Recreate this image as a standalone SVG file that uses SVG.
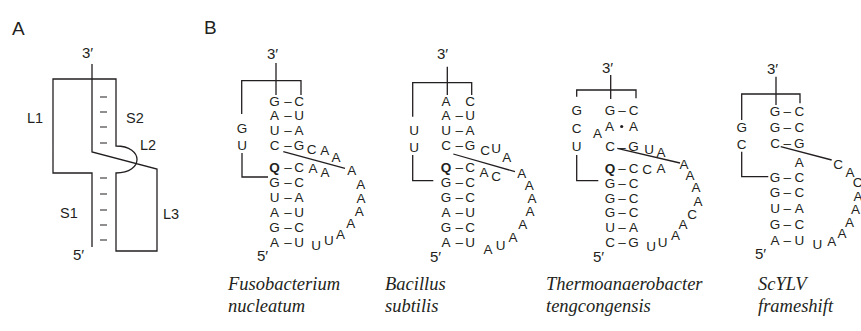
<svg xmlns="http://www.w3.org/2000/svg" width="861" height="331" viewBox="0 0 861 331">
<style>
text{font-family:"Liberation Sans",Arial,sans-serif;fill:#231f20}
.nt{font-size:13.5px;text-anchor:middle}
.q{font-weight:bold}
.lab{font-size:14.5px}
.end{font-size:15px}
.pl{font-size:19px}
.sp{font-family:"Liberation Serif","Times New Roman",serif;font-style:italic;font-size:18.5px}
.ln{fill:none;stroke:#231f20;stroke-width:1.3}
.tick{stroke:#231f20;stroke-width:1.2}
</style>
<rect width="861" height="331" fill="#fff"/>

<g id="panelA">
<text class="pl" x="12" y="35">A</text>
<text class="end" x="82" y="58">3′</text>
<text class="end" x="73" y="260">5′</text>
<text class="lab" x="27" y="123">L1</text>
<text class="lab" x="126" y="123">S2</text>
<text class="lab" x="140" y="150">L2</text>
<text class="lab" x="60" y="218">S1</text>
<text class="lab" x="163" y="219">L3</text>
</g>
<g id="connectors">
<path class="ln" d="M92,247 V173 H53 V79 H116 V146 C144,146 144,173 116,173 V251 H157 V169 L92,152 V64"/>
<path class="tick" d="M100,97 H107 M100,112 H107 M100,127 H107 M100,143 H107 M100,178 H107 M100,194 H107 M100,210 H107 M100,225 H107 M100,240 H107"/>
<path class="ln" d="M241.7,114 V80.7 H301 V95 M276,63 V95 M242,153 V177 H268 M283.3,151.7 L345,168.3"/>
<path class="ln" d="M412.7,116.7 V82.7 H471.7 V95 M447.3,66.7 V95 M412.7,155 V180.7 H433.3 M453.3,154 L515,171.7"/>
<path class="ln" d="M576.7,96.7 V90 H636 V98.3 M610.7,75 V99 M576.7,155 V180.7 H598.3 M617.3,148.3 L680,163"/>
<path class="ln" d="M741.7,120 V94 H800 V103.3 M776,76.7 V105 M741.7,151.7 V176.7 H768.3 M780.7,146.7 L831.7,160"/>
</g>

<text class="pl" x="204" y="34">B</text>

<g id="fusobacterium">
<text class="end" x="267" y="59">3′</text>
<text class="end" x="257" y="261">5′</text>
<text class="nt" x="242" y="133">G</text>
<text class="nt" x="242" y="150">U</text>
<text class="nt" x="274.5" y="105.5">G</text><text class="nt" x="288" y="105.5">–</text><text class="nt" x="299" y="105.5">C</text>
<text class="nt" x="274.5" y="120">A</text><text class="nt" x="288" y="120">–</text><text class="nt" x="299" y="120">U</text>
<text class="nt" x="274.5" y="134.5">U</text><text class="nt" x="288" y="134.5">–</text><text class="nt" x="299" y="134.5">A</text>
<text class="nt" x="274.5" y="149.5">C</text><text class="nt" x="288" y="149.5">–</text><text class="nt" x="299" y="149.5">G</text>
<text class="nt q" x="274.5" y="172">Q</text><text class="nt" x="288" y="172">–</text><text class="nt" x="299" y="172">C</text>
<text class="nt" x="274.5" y="187">G</text><text class="nt" x="288" y="187">–</text><text class="nt" x="299" y="187">C</text>
<text class="nt" x="274.5" y="202">U</text><text class="nt" x="288" y="202">–</text><text class="nt" x="299" y="202">A</text>
<text class="nt" x="274.5" y="217">A</text><text class="nt" x="288" y="217">–</text><text class="nt" x="299" y="217">U</text>
<text class="nt" x="274.5" y="232">G</text><text class="nt" x="288" y="232">–</text><text class="nt" x="299" y="232">C</text>
<text class="nt" x="274.5" y="247">A</text><text class="nt" x="288" y="247">–</text><text class="nt" x="299" y="247">U</text>
<text class="nt" x="311.7" y="154.3">C</text>
<text class="nt" x="324.7" y="155">A</text>
<text class="nt" x="336" y="161.7">A</text>
<text class="nt" x="313" y="173">A</text>
<text class="nt" x="325" y="177.3">A</text>
<text class="nt" x="351.7" y="175">A</text>
<text class="nt" x="360.7" y="189">A</text>
<text class="nt" x="361" y="202.5">A</text>
<text class="nt" x="359.3" y="216">A</text>
<text class="nt" x="350.7" y="228">A</text>
<text class="nt" x="340.5" y="239.3">A</text>
<text class="nt" x="328.8" y="245">U</text>
<text class="nt" x="316" y="249.5">U</text>
<text class="sp" x="228" y="290">Fusobacterium</text>
<text class="sp" x="228" y="312">nucleatum</text>
</g>

<g id="bacillus">
<text class="end" x="437" y="58.5">3′</text>
<text class="end" x="430" y="261.5">5′</text>
<text class="nt" x="414" y="135">U</text>
<text class="nt" x="414" y="151.5">U</text>
<text class="nt" x="446" y="105.5">A</text><text class="nt" x="470" y="105.5">C</text>
<text class="nt" x="446" y="120">A</text><text class="nt" x="459.3" y="120">–</text><text class="nt" x="470" y="120">U</text>
<text class="nt" x="446" y="134.5">U</text><text class="nt" x="459.3" y="134.5">–</text><text class="nt" x="470" y="134.5">A</text>
<text class="nt" x="446" y="149.5">C</text><text class="nt" x="459.3" y="149.5">–</text><text class="nt" x="470" y="149.5">G</text>
<text class="nt q" x="446" y="172">Q</text><text class="nt" x="459.3" y="172">–</text><text class="nt" x="470" y="172">C</text>
<text class="nt" x="446" y="187">G</text><text class="nt" x="459.3" y="187">–</text><text class="nt" x="470" y="187">C</text>
<text class="nt" x="446" y="202">G</text><text class="nt" x="459.3" y="202">–</text><text class="nt" x="470" y="202">C</text>
<text class="nt" x="446" y="217">A</text><text class="nt" x="459.3" y="217">–</text><text class="nt" x="470" y="217">U</text>
<text class="nt" x="446" y="232">G</text><text class="nt" x="459.3" y="232">–</text><text class="nt" x="470" y="232">C</text>
<text class="nt" x="446" y="247">A</text><text class="nt" x="459.3" y="247">–</text><text class="nt" x="470" y="247">U</text>
<text class="nt" x="485" y="155">C</text>
<text class="nt" x="496" y="153.3">U</text>
<text class="nt" x="506.7" y="162">A</text>
<text class="nt" x="484" y="176.7">A</text>
<text class="nt" x="496" y="181">C</text>
<text class="nt" x="521.7" y="178">A</text>
<text class="nt" x="529.3" y="189.5">A</text>
<text class="nt" x="532" y="202.5">A</text>
<text class="nt" x="530" y="216">A</text>
<text class="nt" x="522.7" y="229">A</text>
<text class="nt" x="513" y="241.5">A</text>
<text class="nt" x="500.7" y="250">U</text>
<text class="nt" x="488" y="254">A</text>
<text class="sp" x="385" y="290">Bacillus</text>
<text class="sp" x="385" y="312">subtilis</text>
</g>

<g id="thermoanaerobacter">
<text class="end" x="602" y="73">3′</text>
<text class="end" x="593" y="261.5">5′</text>
<text class="nt" x="576.7" y="114.5">G</text>
<text class="nt" x="576.7" y="132.5">C</text>
<text class="nt" x="576.7" y="150.5">U</text>
<text class="nt" x="610" y="114.5">G</text><text class="nt" x="622" y="114.5">–</text><text class="nt" x="633.5" y="114.5">C</text>
<text class="nt" x="597.5" y="137.5">A</text>
<text class="nt" x="609.5" y="131">A</text><circle cx="621.7" cy="126.5" r="1.6" fill="#231f20"/><text class="nt" x="633.5" y="131">A</text>
<text class="nt" x="610" y="150.5">C</text><text class="nt" x="622" y="151.5">–</text><text class="nt" x="633.5" y="150.5">G</text>
<text class="nt q" x="610" y="173">Q</text><text class="nt" x="622" y="173">–</text><text class="nt" x="633.5" y="173">C</text>
<text class="nt" x="610" y="188">G</text><text class="nt" x="622" y="188">–</text><text class="nt" x="633.5" y="188">C</text>
<text class="nt" x="610" y="202.5">G</text><text class="nt" x="622" y="202.5">–</text><text class="nt" x="633.5" y="202.5">C</text>
<text class="nt" x="610" y="217">G</text><text class="nt" x="622" y="217">–</text><text class="nt" x="633.5" y="217">C</text>
<text class="nt" x="610" y="231.5">U</text><text class="nt" x="622" y="231.5">–</text><text class="nt" x="633.5" y="231.5">A</text>
<text class="nt" x="610" y="246.5">C</text><text class="nt" x="622" y="246.5">–</text><text class="nt" x="633.5" y="246.5">G</text>
<text class="nt" x="649" y="154">U</text>
<text class="nt" x="661" y="156.5">A</text>
<text class="nt" x="647" y="174">C</text>
<text class="nt" x="661" y="173">A</text>
<text class="nt" x="684" y="168.5">A</text>
<text class="nt" x="690" y="179.5">A</text>
<text class="nt" x="696" y="192">A</text>
<text class="nt" x="698" y="205.5">A</text>
<text class="nt" x="692" y="219">C</text>
<text class="nt" x="683" y="229">A</text>
<text class="nt" x="675.5" y="240">A</text>
<text class="nt" x="662.5" y="247">U</text>
<text class="nt" x="651" y="251">U</text>
<text class="sp" x="546" y="290">Thermoanaerobacter</text>
<text class="sp" x="546" y="312">tengcongensis</text>
</g>

<g id="scylv">
<text class="end" x="767" y="74">3′</text>
<text class="end" x="755" y="259">5′</text>
<text class="nt" x="741.7" y="132.3">G</text>
<text class="nt" x="741.7" y="149">C</text>
<text class="nt" x="775" y="116">G</text><text class="nt" x="787.3" y="116">–</text><text class="nt" x="799.3" y="116">C</text>
<text class="nt" x="775" y="132">G</text><text class="nt" x="787.3" y="132">–</text><text class="nt" x="799.3" y="132">C</text>
<text class="nt" x="775" y="148">C</text><text class="nt" x="787.3" y="148">–</text><text class="nt" x="799.3" y="148">G</text>
<text class="nt" x="799.3" y="166.5">A</text>
<text class="nt" x="775" y="181.5">G</text><text class="nt" x="787.3" y="181.5">–</text><text class="nt" x="799.3" y="181.5">C</text>
<text class="nt" x="775" y="197.3">G</text><text class="nt" x="787.3" y="197.3">–</text><text class="nt" x="799.3" y="197.3">C</text>
<text class="nt" x="775" y="213.1">U</text><text class="nt" x="787.3" y="213.1">–</text><text class="nt" x="799.3" y="213.1">A</text>
<text class="nt" x="775" y="229">G</text><text class="nt" x="787.3" y="229">–</text><text class="nt" x="799.3" y="229">C</text>
<text class="nt" x="775" y="245">A</text><text class="nt" x="787.3" y="245">–</text><text class="nt" x="799.3" y="245">U</text>
<text class="nt" x="838" y="169">C</text>
<text class="nt" x="850" y="177">A</text>
<text class="nt" x="857.5" y="186.5">C</text>
<text class="nt" x="858" y="200.5">A</text>
<text class="nt" x="855.5" y="214">A</text>
<text class="nt" x="849.5" y="226.5">A</text>
<text class="nt" x="842" y="238">A</text>
<text class="nt" x="831.7" y="245.5">A</text>
<text class="nt" x="817.4" y="249">U</text>
<text class="sp" x="758" y="290">ScYLV</text>
<text class="sp" x="758" y="312">frameshift</text>
</g>
</svg>
